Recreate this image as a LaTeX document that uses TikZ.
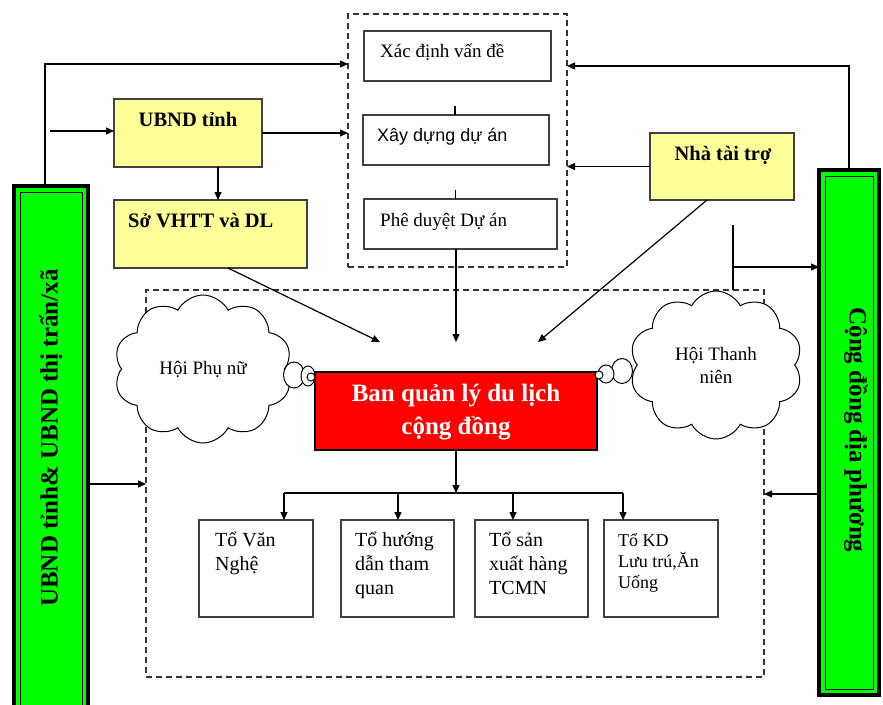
\documentclass[tikz,border=0pt]{standalone}
\usepackage{fontspec}
\setmainfont{Liberation Serif}
\newfontfamily\arialf{Liberation Sans}
\usetikzlibrary{arrows.meta,shapes.symbols,shapes.geometric,calc}
\definecolor{ybox}{HTML}{FFFF99}
\definecolor{gbox}{HTML}{00FF00}
\definecolor{rbox}{HTML}{FF0000}
\begin{document}
\begin{tikzpicture}[x=1pt,y=-1pt,
  conn/.style={line width=1.2pt,-{Triangle[length=8pt,width=7pt]}},
  plain/.style={line width=1.2pt},
  wbox/.style={draw=black!75,line width=1.3pt,fill=white,inner sep=0pt,outer sep=0pt,anchor=north west},
  ybox/.style={wbox,fill=ybox},
  dbox/.style={draw=black!80,line width=1.3pt,dash pattern=on 6pt off 4pt,inner sep=0pt,outer sep=0pt,anchor=north west},
  gframe/.style={draw=black,line width=4.5pt,fill=gbox,inner sep=0pt,outer sep=0pt,anchor=north west},
  gin/.style={draw=black,line width=1pt},
  txt/.style={inner sep=0pt,anchor=base west,font=\fontsize{19}{23}\selectfont},
  btxt/.style={inner sep=0pt,anchor=base,font=\bfseries\fontsize{20.5}{24}\selectfont},
  ktxt/.style={inner sep=0pt,anchor=north west,align=left,font=\fontsize{20}{24}\selectfont},
  cl/.style={cloud,draw=black,line width=1pt,fill=white,cloud puffs=10,cloud puff arc=125,
    cloud ignores aspect,inner sep=0pt,font=\fontsize{19}{23}\selectfont,align=center},
  bub/.style={ellipse,draw=black,line width=1pt,fill=white,inner sep=0pt}
]
\useasboundingbox (0,0) rectangle (883,704);
% green side boxes
\node[gframe,minimum width=74pt,minimum height=540pt] (lg) at (14,186) {};
\draw[gin] ([shift={(6,6)}]lg.north west) rectangle ([shift={(-6,-6)}]lg.south east);
\node[gframe,minimum width=60pt,minimum height=525pt] (rg) at (819,170) {};
\draw[gin] ([shift={(6,6)}]rg.north west) rectangle ([shift={(-6,-6)}]rg.south east);
\node[rotate=90,inner sep=0pt,font=\bfseries\fontsize{25}{30}\selectfont] (lgt) at (51,438) {UBND tỉnh\& UBND thị trấn/xã};
\node[rotate=-90,inner sep=0pt,font=\bfseries\fontsize{25}{30}\selectfont] (rgt) at (856,430) {Cộng đồng địa phương};
% dashed boxes
\node[dbox,minimum width=219pt,minimum height=253pt] (dtop) at (348,14) {};
\node[dbox,minimum width=618pt,minimum height=387pt] (dmid) at (146,290) {};
% top process boxes
\node[wbox,minimum width=187pt,minimum height=50pt] (b1) at (364,31) {};
\node[wbox,minimum width=186pt,minimum height=50pt] (b2) at (363,115) {};
\node[wbox,minimum width=193pt,minimum height=50pt] (b3) at (364,199) {};
\node[txt] (b1t) at (380,57) {Xác định vấn đề};
\node[txt,font=\arialf\fontsize{18}{22}\selectfont] (b2t) at (377,141) {Xây dựng dự án};
\node[txt] (b3t) at (380,226) {Phê duyệt Dự án};
\draw[plain] ([xshift=-1pt]b2.north) -- ++(0,-9);
\draw[plain] ([xshift=-5pt]b3.north) -- ++(0,-9);
% yellow boxes
\node[ybox,minimum width=148pt,minimum height=68pt] (ub) at (114,99) {};
\node[btxt] (ubt) at (188,126) {UBND tỉnh};
\node[ybox,minimum width=193pt,minimum height=68pt] (so) at (114,200) {};
\node[btxt,anchor=base west] (sot) at (128,227) {Sở VHTT và DL};
\node[ybox,minimum width=144pt,minimum height=67pt] (nt) at (650,133) {};
\node[btxt] (ntt) at (723,160) {Nhà tài trợ};
% helper coordinates
\coordinate (a2) at (50,131);
\coordinate (t1) at (380,342);
\coordinate (t2) at (456,342);
\coordinate (t3) at (538,342);
\coordinate (v1) at (733,225);
\coordinate (v2) at (733,267);
% connectors
\draw[conn] ([xshift=-6pt]lg.north) |- ($(dtop.north west)+(0,50)$);
\draw[conn] (a2) -- (a2 -| ub.west);
\draw[conn] (ub.east) -- (ub.east -| dtop.west);
\draw[conn] ([xshift=30pt]ub.south) -- ([xshift=30pt]ub.south |- so.north);
\draw[conn] (rg.north) |- ($(dtop.north east)+(0,52)$);
\draw[conn] (nt.west) -- (nt.west -| dtop.east);
\draw[conn] ([xshift=-15pt]nt.south) -- (t3);
\draw[conn] ([xshift=17.5pt]so.south) -- (t1);
\draw[conn] (b3.south -| t2) -- (t2);
\draw[plain] (v1) -- (v1 |- dmid.north);
\draw[conn] (v2) -- (v2 -| rg.west);
\draw[conn] ([yshift=-28pt]lg.east) -- ([yshift=-28pt]lg.east -| dmid.west);
\draw[conn] ([yshift=-61.5pt]rg.west) -- ([yshift=-61.5pt]rg.west -| dmid.east);
% management board
\node[draw=black,line width=1.2pt,fill=rbox,inner sep=0pt,outer sep=0pt,anchor=north west,
  minimum width=282pt,minimum height=78pt] (ban) at (315,372) {};
\node[inner sep=0pt,align=center,text=white,font=\bfseries\fontsize{25}{33}\selectfont] (bant) at (456,412) {Ban quản lý du lịch\\cộng đồng};
% clouds
\node[cl,minimum width=178pt,minimum height=148pt] (hpn) at (203,369) {Hội Phụ nữ};
\node[bub,minimum width=21pt,minimum height=26pt] (hpn1) at (294,375) {};
\node[bub,minimum width=14pt,minimum height=20pt] (hpn2) at (308,376) {};
\node[bub,minimum width=8pt,minimum height=8pt] (hpn3) at (311,377) {};
\node[cl,minimum width=173pt,minimum height=148pt] (htn) at (716,365) {Hội Thanh\\niên};
\node[bub,minimum width=21pt,minimum height=25pt] (htn1) at (622,371) {};
\node[bub,minimum width=16pt,minimum height=18pt] (htn2) at (606,374) {};
\node[bub,minimum width=8pt,minimum height=8pt] (htn3) at (599,375) {};
% groups
\node[wbox,minimum width=114pt,minimum height=97pt] (k1) at (199,520) {};
\node[wbox,minimum width=113pt,minimum height=97pt] (k2) at (341,520) {};
\node[wbox,minimum width=113pt,minimum height=97pt] (k3) at (475,520) {};
\node[wbox,minimum width=114pt,minimum height=97pt] (k4) at (604,520) {};
\node[ktxt] (k1t) at (215,526) {\rule{0pt}{20pt}Tổ Văn\\Nghệ};
\node[ktxt] (k2t) at (355,526) {\rule{0pt}{20pt}Tổ hướng\\dẫn tham\\quan};
\node[ktxt] (k3t) at (489,526) {\rule{0pt}{20pt}Tổ sản\\xuất hàng\\TCMN};
\node[ktxt,font=\fontsize{18}{21}\selectfont] (k4t) at (618,528) {\rule{0pt}{18pt}Tổ KD\\Lưu trú,Ăn\\Uống};
\coordinate (p1) at (284,493);
\coordinate (p2) at (398,493);
\coordinate (p3) at (513,493);
\coordinate (p4) at (623,493);
\draw[conn] (ban.south) -- (ban.south |- p1);
\draw[plain] (p1) -- (p4);
\draw[conn] (p1) -- (p1 |- k1.north);
\draw[conn] (p2) -- (p2 |- k2.north);
\draw[conn] (p3) -- (p3 |- k3.north);
\draw[conn] (p4) -- (p4 |- k4.north);
\end{tikzpicture}
\end{document}
